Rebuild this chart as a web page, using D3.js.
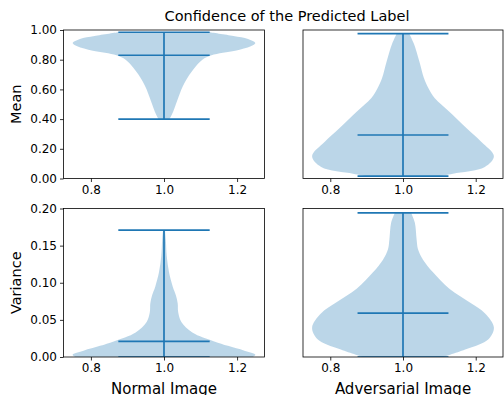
<!DOCTYPE html>
<html>
<head>
<meta charset="utf-8">
<script src="https://cdn.jsdelivr.net/npm/d3@7"></script>
<style>
  body { margin: 0; background: #fff; }
  text { font-family: "DejaVu Sans", sans-serif; fill: #000; }
</style>
</head>
<body>
<div id="chart"></div>
<script>
// violin profiles: value along y, relative half-width (1 = widest)
var meanNormalY = [0.40, 0.45, 0.50, 0.55, 0.60, 0.65, 0.70, 0.75, 0.80, 0.83, 0.86, 0.89, 0.912, 0.94, 0.96, 0.985];
var meanNormalW = [0.06, 0.10, 0.13, 0.16, 0.19, 0.23, 0.28, 0.34, 0.42, 0.52, 0.78, 0.95, 1.00, 0.92, 0.76, 0.50];
var meanNormalStats = [0.40, 0.83, 0.985]; // min, mean, max

var meanAdvY = [0.016, 0.032, 0.077, 0.151, 0.248, 0.338, 0.45, 0.541, 0.608, 0.676, 0.788, 0.907, 0.975];
var meanAdvW = [0.40, 0.55, 0.90, 1.00, 0.86, 0.70, 0.51, 0.35, 0.28, 0.23, 0.18, 0.12, 0.07];
var meanAdvStats = [0.016, 0.293, 0.975];

var varNormalY = [0.0, 0.003, 0.0085, 0.015, 0.021, 0.033, 0.047, 0.0605, 0.072, 0.083, 0.095, 0.114, 0.136, 0.158, 0.171];
var varNormalW = [0.97, 1.00, 0.88, 0.70, 0.55, 0.31, 0.19, 0.155, 0.15, 0.13, 0.095, 0.055, 0.03, 0.02, 0.01];
var varNormalStats = [0.0, 0.021, 0.171];

var varAdvY = [0.0, 0.0107, 0.024, 0.0397, 0.059, 0.073, 0.092, 0.114, 0.131, 0.145, 0.158, 0.181, 0.194];
var varAdvW = [0.44, 0.70, 0.94, 1.00, 0.90, 0.74, 0.51, 0.33, 0.22, 0.165, 0.15, 0.13, 0.09];
var varAdvStats = [0.0, 0.059, 0.194];

var xTicks = [0.8, 1.0, 1.2];
var meanTicks = [0, 0.2, 0.4, 0.6, 0.8, 1.0];
var varTicks = [0, 0.05, 0.10, 0.15, 0.20];

var width = 504, height = 395;
var blue = "#1f77b4";

var svg = d3.select("#chart").append("svg")
    .attr("width", width)
    .attr("height", height);

var cols = [[63.5, 264.5], [303, 503]];
var rows = [[30, 178.5], [208.5, 357]];

var panels = [
    {row: 0, col: 0, ys: meanNormalY, ws: meanNormalW, stats: meanNormalStats, domain: [0, 1], ticks: meanTicks, label: "Mean"},
    {row: 0, col: 1, ys: meanAdvY, ws: meanAdvW, stats: meanAdvStats, domain: [0, 1], ticks: meanTicks},
    {row: 1, col: 0, ys: varNormalY, ws: varNormalW, stats: varNormalStats, domain: [0, 0.2], ticks: varTicks, label: "Variance", xlabel: "Normal Image"},
    {row: 1, col: 1, ys: varAdvY, ws: varAdvW, stats: varAdvStats, domain: [0, 0.2], ticks: varTicks, xlabel: "Adversarial Image"}
];

panels.forEach(function(p, i) {
    var x = d3.scaleLinear().domain([0.725, 1.275]).range(cols[p.col]);
    var y = d3.scaleLinear().domain(p.domain).range([rows[p.row][1], rows[p.row][0]]);
    var g = svg.append("g");

    var clipId = "clip" + i;
    svg.append("clipPath").attr("id", clipId)
        .append("rect")
        .attr("x", cols[p.col][0]).attr("y", rows[p.row][0])
        .attr("width", cols[p.col][1] - cols[p.col][0])
        .attr("height", rows[p.row][1] - rows[p.row][0]);

    var pts = p.ys.map(function(v, k) { return {v: v, w: p.ws[k]}; });
    var area = d3.area()
        .y(function(d) { return y(d.v); })
        .x0(function(d) { return x(1 - 0.25 * d.w); })
        .x1(function(d) { return x(1 + 0.25 * d.w); })
        .curve(d3.curveCatmullRom);

    var plot = g.append("g").attr("clip-path", "url(#" + clipId + ")");
    plot.append("path")
        .datum(pts)
        .attr("d", area)
        .attr("fill", blue)
        .attr("fill-opacity", 0.3);

    // min / mean / max bars and the vertical stem
    plot.selectAll("line.bar")
        .data(p.stats)
        .enter().append("line")
        .attr("class", "bar")
        .attr("x1", x(0.875)).attr("x2", x(1.125))
        .attr("y1", function(d) { return y(d); })
        .attr("y2", function(d) { return y(d); })
        .attr("stroke", blue).attr("stroke-width", 1.7);
    plot.append("line")
        .attr("x1", x(1)).attr("x2", x(1))
        .attr("y1", y(p.stats[0])).attr("y2", y(p.stats[2]))
        .attr("stroke", blue).attr("stroke-width", 1.7);

    // x axis
    var xAxis = g.append("g")
        .attr("transform", "translate(0," + rows[p.row][1] + ")")
        .call(d3.axisBottom(x).tickValues(xTicks).tickFormat(d3.format(".1f")).tickSize(3.5).tickPadding(3));
    xAxis.select(".domain").remove();
    xAxis.selectAll("text").style("font-size", "12px").attr("fill", "#000");
    xAxis.selectAll("line").attr("stroke", "#000").attr("stroke-width", 0.8);

    if (p.col === 0) {
        var yAxis = g.append("g")
            .attr("transform", "translate(" + cols[p.col][0] + ",0)")
            .call(d3.axisLeft(y).tickValues(p.ticks).tickFormat(d3.format(".2f")).tickSize(3.5).tickPadding(3));
        yAxis.select(".domain").remove();
        yAxis.selectAll("text").style("font-size", "12px").attr("fill", "#000");
        yAxis.selectAll("line").attr("stroke", "#000").attr("stroke-width", 0.8);

        g.append("text")
            .attr("transform", "translate(16," + ((rows[p.row][0] + rows[p.row][1]) / 2) + ") rotate(-90)")
            .attr("text-anchor", "middle")
            .attr("dy", "0.35em")
            .style("font-size", "14.5px")
            .text(p.label);
    }

    if (p.xlabel) {
        g.append("text")
            .attr("x", (cols[p.col][0] + cols[p.col][1]) / 2)
            .attr("y", 394)
            .attr("text-anchor", "middle")
            .style("font-size", "15px")
            .text(p.xlabel);
    }

    // frame
    g.append("rect")
        .attr("x", cols[p.col][0]).attr("y", rows[p.row][0])
        .attr("width", cols[p.col][1] - cols[p.col][0])
        .attr("height", rows[p.row][1] - rows[p.row][0])
        .attr("fill", "none")
        .attr("stroke", "#000")
        .attr("stroke-width", 0.8);
});

svg.append("text")
    .attr("x", 287)
    .attr("y", 21)
    .attr("text-anchor", "middle")
    .style("font-size", "14.5px")
    .text("Confidence of the Predicted Label");
</script>
</body>
</html>
